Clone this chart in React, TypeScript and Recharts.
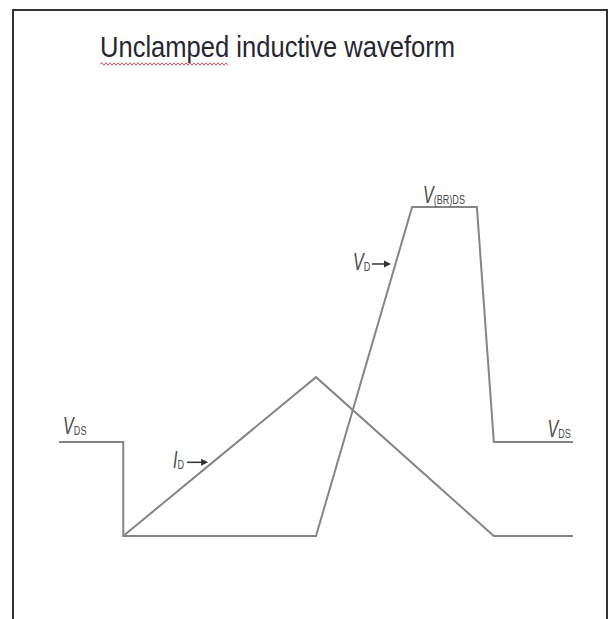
import * as React from 'react';
import { LineChart, Line, XAxis, YAxis, ReferenceDot } from 'recharts';

// time (arbitrary units) and level for the V_DS trace
const vdsTime = [0, 1.25, 1.25, 5.0, 6.87, 8.13, 8.46, 10];
const vdsLevel = [1, 1, 0, 0, 3.5, 3.5, 1, 1];

// I_D trace
const idTime = [1.25, 5.0, 8.46, 10];
const idLevel = [0, 1.69, 0, 0];

// annotations: main letter, subscript, anchor point in data units
const labelText = ['V', 'V', 'I', 'V', 'V'];
const labelSub = ['DS', 'DS', 'D', 'D', '(BR)DS'];
const labelTime = [0.08, 9.96, 2.22, 5.72, 7.08];
const labelLevel = [1.085, 1.05, 0.72, 2.83, 3.54];
const labelArrow = [false, false, true, true, false];

const vdsData = vdsTime.map((t, i) => ({ t, v: vdsLevel[i] }));
const idData = idTime.map((t, i) => ({ t, v: idLevel[i] }));

const LINE_COLOR = '#858585';
const TEXT_COLOR = '#4a4a4a';

function renderLabel(i: number) {
  return (props: any) => {
    const { cx, cy } = props;
    const anchorEnd = i === 1;
    const isI = labelText[i] === 'I';
    return (
      <g transform={`translate(${cx},${cy})`}>
        <text
          x={0}
          y={0}
          fill={TEXT_COLOR}
          fontFamily="Liberation Sans, Arial, sans-serif"
          textAnchor={anchorEnd ? 'end' : 'start'}
          transform="scale(0.7,1)"
        >
          <tspan fontSize={23} fontStyle="italic">{labelText[i]}</tspan>
          <tspan fontSize={13} dy={1}>{labelSub[i]}</tspan>
        </text>
        {labelArrow[i] && (
          <g>
            <line
              x1={isI ? 14 : 19}
              y1={-6}
              x2={isI ? 30 : 33}
              y2={-6}
              stroke="#333"
              strokeWidth={1.5}
            />
            <polygon
              points={isI ? '28,-9.5 35,-6 28,-2.5' : '31,-9.5 38,-6 31,-2.5'}
              fill="#333"
            />
          </g>
        )}
      </g>
    );
  };
}

function Squiggle() {
  let d = 'M100,64';
  for (let x = 102; x <= 228; x += 2) {
    d += ` L${x},${(x / 2) % 2 === 0 ? 65.2 : 62.8}`;
  }
  return <path d={d} stroke="#d84040" strokeWidth={0.9} fill="none" />;
}

export default function App(): React.JSX.Element {
  return (
    <div style={{ position: 'absolute', left: 0, top: 0, width: 611, height: 619, overflow: 'hidden', background: '#fff' }}>
      <div
        style={{
          position: 'absolute',
          left: 12,
          top: 9,
          width: 596,
          height: 700,
          border: '2px solid #333',
          boxSizing: 'border-box',
        }}
      />
      <svg width={611} height={100} style={{ position: 'absolute', left: 0, top: 0 }}>
        <text
          x={100}
          y={57}
          fontSize={30}
          fill="#262630"
          fontFamily="Liberation Sans, Arial, sans-serif"
          textLength={355}
          lengthAdjust="spacingAndGlyphs"
        >
          Unclamped inductive waveform
        </text>
        <Squiggle />
      </svg>
      <div style={{ position: 'absolute', left: 0, top: 0 }}>
        <LineChart width={611} height={619} margin={{ top: 160, right: 38, bottom: 83, left: 59 }}>
          <XAxis dataKey="t" type="number" domain={[0, 10]} hide allowDuplicatedCategory={false} />
          <YAxis type="number" domain={[0, 4]} hide />
          <Line
            data={vdsData}
            dataKey="v"
            type="linear"
            stroke={LINE_COLOR}
            strokeWidth={2}
            dot={false}
            isAnimationActive={false}
          />
          <Line
            data={idData}
            dataKey="v"
            type="linear"
            stroke={LINE_COLOR}
            strokeWidth={2}
            dot={false}
            isAnimationActive={false}
          />
          {labelText.map((_, i) => (
            <ReferenceDot
              key={i}
              x={labelTime[i]}
              y={labelLevel[i]}
              r={0}
              shape={renderLabel(i)}
            />
          ))}
        </LineChart>
      </div>
    </div>
  );
}
